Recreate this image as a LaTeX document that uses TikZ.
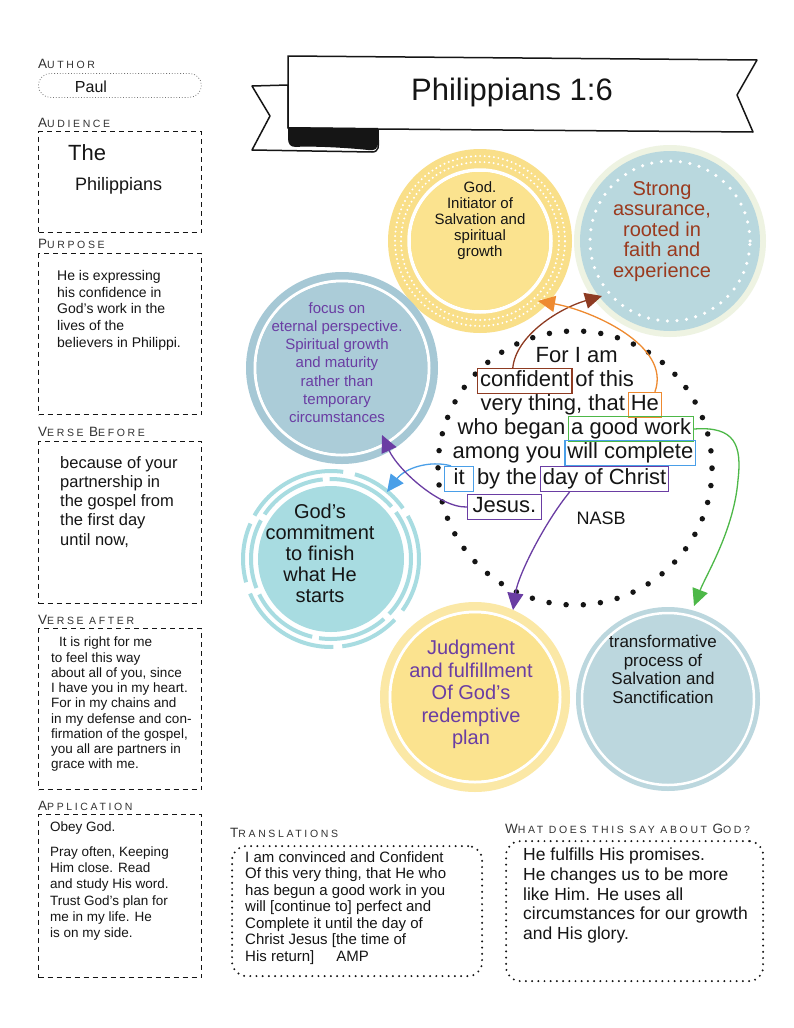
\documentclass[tikz,border=0pt]{standalone}
\usepackage{fontspec}
\setmainfont{Liberation Sans}
\newfontfamily\lblfont[LetterSpace=25]{Liberation Sans}
\usetikzlibrary{arrows.meta}
\definecolor{ink}{HTML}{151515}
\definecolor{lblc}{HTML}{333333}
\definecolor{ylwA}{HTML}{F9DF89}
\definecolor{ylwB}{HTML}{FBE38F}
\definecolor{ylwC}{HTML}{FBE8A6}
\definecolor{blueA}{HTML}{B9D8DE}
\definecolor{paleG}{HTML}{EEF3E2}
\definecolor{steel}{HTML}{A6C8D5}
\definecolor{steelB}{HTML}{ABCCD8}
\definecolor{tealc}{HTML}{A8DCE1}
\definecolor{grayb}{HTML}{BCD7DE}
\definecolor{brownc}{HTML}{8E3B22}
\definecolor{brownt}{HTML}{9A3A1E}
\definecolor{orangec}{HTML}{EE8A30}
\definecolor{greenc}{HTML}{4DB848}
\definecolor{bluec}{HTML}{4A9FE8}
\definecolor{purplec}{HTML}{6A3DA3}
\newcommand\fs[2]{\fontsize{#1}{#2}\selectfont}
\newcommand\capL[1]{{\fontsize{13.5}{13.5}\selectfont #1}}
\begin{document}
\begin{tikzpicture}[x=1pt,y=-1pt,
  lbl/.style={anchor=base west, inner sep=0pt, text=lblc, font=\lblfont\fs{10.5}{11}},
  dbox/.style={draw=ink, line width=1.1pt, dash pattern=on 5pt off 4pt, anchor=north west, inner sep=0pt},
  dotbox/.style={draw=ink, line width=2.2pt, line cap=round, dash pattern=on 0pt off 6.2pt, rounded corners=14pt, anchor=north west, inner sep=0pt},
  hw/.style={anchor=north west, align=left, inner sep=0pt, text=ink},
  ctext/.style={anchor=north, align=center, inner sep=0pt, text=ink},
  disc/.style={circle, inner sep=0pt, minimum size=#1},
  w/.style={anchor=base west, inner sep=2.5pt, text height=15pt, text depth=5pt, text=ink, font=\fs{22}{24}},
  wb/.style={w, draw=#1, line width=1.3pt},
  arr/.style={draw=#1, line width=1.3pt, -{Triangle[length=17pt,width=16pt]}},
]
\useasboundingbox (0,0) rectangle (794,1028);
\fill[white] (0,0) rectangle (794,1028);

% ---------- left column ----------
\node[lbl] (lAuth) at (38,68) {\capL{A}UTHOR};
\node[draw=black!55, dotted, line width=0.8pt, rounded corners=12pt, minimum width=163pt, minimum height=24pt, anchor=north west, inner sep=0pt] (bAuth) at (38,73) {};
\node[anchor=base, inner sep=0pt, font=\fs{16}{18}, text=ink] (tPaul) at (91,92) {Paul};

\node[lbl] (lAud) at (38,127) {\capL{A}UDIENCE};
\node[dbox, minimum width=163pt, minimum height=101pt] (bAud) at (38,131) {};
\node[anchor=base west, inner sep=0pt, font=\fs{22}{24}, text=ink] (tThe) at (68,160) {The};
\node[anchor=base west, inner sep=0pt, font=\fs{18}{20}, text=ink] (tPhil) at (75,190) {Philippians};

\node[lbl] (lPur) at (38,248) {\capL{P}URPOSE};
\node[dbox, minimum width=163pt, minimum height=161pt] (bPur) at (38,253) {};
\node[hw, font=\fs{14}{16.8}] (tPur) at (57,270) {He is expressing\\his confidence in\\God's work in the\\lives of the\\believers in Philippi.};

\node[lbl] (lVB) at (38,436) {\capL{V}ERSE \capL{B}EFORE};
\node[dbox, minimum width=163pt, minimum height=162pt] (bVB) at (38,441) {};
\node[hw, font=\fs{16.5}{19.25}] (tVB) at (60,456) {because of your\\partnership in\\the gospel from\\the first day\\until now,};

\node[lbl] (lVA) at (38,624) {\capL{V}ERSE AFTER};
\node[dbox, minimum width=163pt, minimum height=161pt] (bVA) at (38,628) {};
\node[hw, font=\fs{13.5}{15.25}] (tVA) at (51,637) {\hspace*{8pt}It is right for me\\to feel this way\\about all of you, since\\I have you in my heart.\\For in my chains and\\in my defense and con-\\firmation of the gospel,\\you all are partners in\\grace with me.};

\node[lbl] (lApp) at (38,810) {\capL{A}PPLICATION};
\node[dbox, minimum width=163pt, minimum height=163pt] (bApp) at (38,814) {};
\node[hw, font=\fs{13.5}{16.3}] (tApp) at (50,822) {Obey God.\\[8pt]Pray often, Keeping\\Him close. Read\\and study His word.\\Trust God's plan for\\me in my life. He\\is on my side.};

% ---------- bottom boxes ----------
\node[lbl] (lTr) at (230,837) {\capL{T}RANSLATIONS};
\node[dotbox, minimum width=250pt, minimum height=130pt] (bTr) at (231,845) {};
\node[hw, font=\fs{15}{16.5}] (tTr) at (245,851) {I am convinced and Confident\\Of this very thing, that He who\\has begun a good work in you\\will [continue to] perfect and\\Complete it until the day of\\Christ Jesus [the time of\\His return]\hspace{22pt}AMP};

\node[lbl] (lGod) at (505,833) {\capL{W}HAT DOES THIS SAY ABOUT \capL{G}OD?};
\node[dotbox, minimum width=257pt, minimum height=140pt] (bGod) at (505,840) {};
\node[hw, font=\fs{17.5}{19.7}] (tGod) at (523,848) {He fulfills His promises.\\He changes us to be more\\like Him. He uses all\\circumstances for our growth\\and His glory.};

% ---------- banner ----------
\filldraw[fill=white, draw=ink, line width=1.5pt, line join=round] (288,85) -- (252,86) -- (270,116) -- (252,150) -- (372,152) .. controls (379,152) and (379,146) .. (378,138) -- (378,128) -- (288,128) -- cycle;
\filldraw[fill=white, draw=ink, line width=1.5pt, line join=round] (288,56) -- (757,60) -- (737,95) -- (753,132) -- (378,129) -- (288,128) -- cycle;
\fill[ink] (288,127) -- (378,128) -- (378,142) .. controls (378,149) and (375,151) .. (368,150) .. controls (340,147) and (305,146) .. (296,147) .. controls (290,147) and (288,144) .. (288,138) -- cycle;
\node[font=\fs{31}{33}, text=ink, inner sep=0pt] (title) at (512,92) {Philippians 1:6};

% ---------- circle 1: yellow top ----------
\node[disc=184pt, fill=ylwA] (c1) at (480,241) {};
\draw[white, line width=2.2pt, line cap=round, dash pattern=on 0pt off 4.6pt] (c1.center) circle[radius=79pt];
\draw[white, line width=2.2pt, line cap=round, dash pattern=on 0pt off 4.6pt] (c1.center) circle[radius=85pt];
\draw[white, line width=3.5pt] (c1.center) circle[radius=71pt];
\fill[ylwB] (c1.center) circle[radius=69pt];
\node[ctext, font=\fs{15}{16}] (t1) at (480,181) {God.\\Initiator of\\Salvation and\\spiritual\\growth};

% ---------- circle 2: blue top right ----------
\node[disc=192pt, fill=paleG] (c2) at (670,241) {};
\fill[blueA] (c2.center) circle[radius=90pt];
\draw[white, line width=3.5pt, line cap=round, dash pattern=on 0pt off 9.6pt] (c2.center) circle[radius=80pt];
\node[ctext, font=\fs{20}{20.5}, text=brownt] (t2) at (662,181) {Strong\\assurance,\\rooted in\\faith and\\experience};

% ---------- circle 3: focus ----------
\node[disc=192pt, fill=steel] (c3) at (342,368) {};
\draw[white, line width=3pt] (c3.center) circle[radius=87pt];
\fill[steelB] (c3.center) circle[radius=85.5pt];
\node[ctext, font=\fs{15}{18.3}, text=purplec] (t3) at (337,302) {focus on\\eternal perspective.\\Spiritual growth\\and maturity\\rather than\\temporary\\circumstances};

% ---------- circle 4: teal ----------
\node[disc=146pt, fill=tealc] (c4) at (331,559) {};
\draw[tealc, line width=4pt, dash pattern=on 70pt off 7pt, dash phase=20pt] (c4.center) circle[radius=80pt];
\draw[tealc, line width=4pt, dash pattern=on 105pt off 9pt on 60pt off 12pt, dash phase=60pt] (c4.center) circle[radius=88pt];
\node[ctext, font=\fs{20}{21}] (t4) at (320,504) {God's\\commitment\\to finish\\what He\\starts};

% ---------- circle 5: yellow bottom ----------
\node[disc=190pt, fill=ylwC] (c5) at (475,697) {};
\draw[white, line width=3pt] (c5.center) circle[radius=85pt];
\fill[ylwB] (c5.center) circle[radius=83.5pt];
\node[ctext, font=\fs{20}{22.5}, text=purplec] (t5) at (471,640) {Judgment\\and fulfillment\\Of God's\\redemptive\\plan};

% ---------- circle 6: blue-gray bottom ----------
\node[disc=184pt, fill=grayb] (c6) at (668,699) {};
\draw[white, line width=2.5pt] (c6.center) circle[radius=86pt];
\node[ctext, font=\fs{17}{18.7}] (t6) at (663,635) {transformative\\process of\\Salvation and\\Sanctification};

% ---------- center dotted circle ----------
\node[disc=274pt] (cc) at (575,468) {};
\draw[ink, line width=5.5pt, line cap=round, dash pattern=on 0pt off 17.21pt] (cc.center) circle[radius=137pt];

% ---------- verse text ----------
\node[w] (l1) at (533,362) {For I am};
\node[wb=brownc] (conf) at (477,386) {confident};
\node[w] (l2b) at (conf.base east) {of this};
\node[w] (l3a) at (478,410) {very thing, that};
\node[wb=orangec] (he) at (l3a.base east) {He};
\node[w] (l4a) at (455,434) {who began};
\node[wb=greenc] (gw) at (l4a.base east) {a good work};
\node[w] (l5a) at (450,458) {among you};
\node[wb=bluec] (wc) at (l5a.base east) {will complete};
\node[wb=bluec, inner xsep=9pt] (itb) at (444,484) {it};
\node[w] (l6b) at (itb.base east) {by the};
\node[wb=purplec] (day) at (l6b.base east) {day of Christ};
\node[wb=purplec, inner xsep=5pt] (jes) at (467,512) {Jesus.};
\node[w, font=\fs{18}{20}] (nasb) at (574,524) {NASB};

% ---------- arrows ----------
\coordinate (brEnd) at (602,296);
\coordinate (orEnd) at (538,301);
\coordinate (grEnd) at (694,606);
\coordinate (blEnd) at (387,492);
\coordinate (puA) at (382,435);
\coordinate (puB) at (513,610);
\draw[arr=brownc] ([xshift=-12pt]conf.north) .. controls (516,335) and (560,308) .. (brEnd);
\draw[arr=orangec] ([xshift=10pt]he.north) .. controls (672,345) and (590,310) .. (orEnd);
\draw[arr=greenc] (gw.east) .. controls (735,426) and (742,445) .. (738,480) .. controls (734,530) and (706,575) .. (grEnd);
\draw[arr=bluec] ([xshift=7pt]itb.north west) .. controls (430,460) and (405,468) .. (blEnd);
\draw[arr=purplec] (jes.west) .. controls (440,508) and (398,470) .. (puA);
\draw[arr=purplec] ([xshift=-35pt]day.south) .. controls (545,522) and (518,575) .. (puB);
\end{tikzpicture}
\end{document}
